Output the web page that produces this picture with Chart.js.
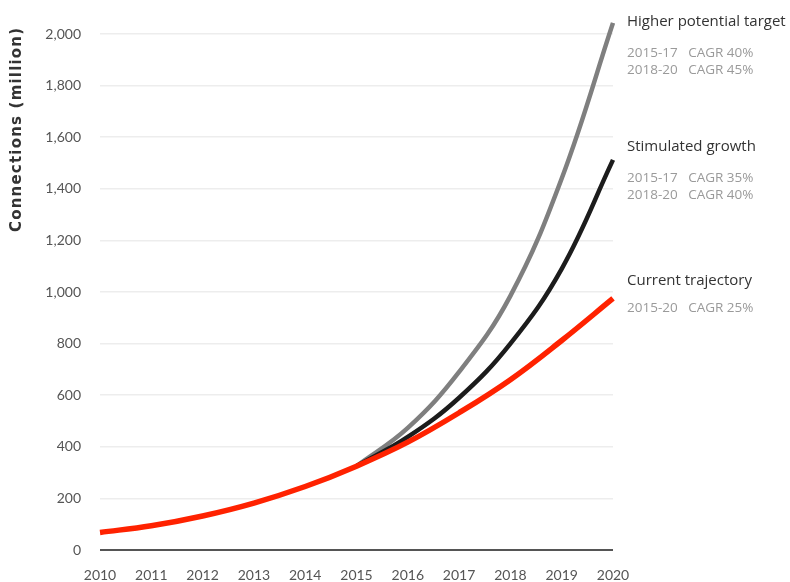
<!DOCTYPE html>
<html>
<head>
<meta charset="utf-8">
<script src="https://cdn.jsdelivr.net/npm/chart.js@4.4.1/dist/chart.umd.min.js"></script>
<style>
  html, body { margin: 0; padding: 0; background: #ffffff; }
  #wrap { width: 790px; height: 582px; }
</style>
</head>
<body>
<div id="wrap"><canvas id="c" width="790" height="582"></canvas></div>
<script>
// Years on the horizontal axis
const years = ['2010','2011','2012','2013','2014','2015','2016','2017','2018','2019','2020'];

// Connections (million) per scenario
const currentTrajectory = [68, 94, 132, 182, 246, 325, 418, 532, 660, 812, 975];
const stimulatedGrowth  = [null, null, null, null, null, 325, 438, 590, 800, 1090, 1512];
const higherPotential   = [null, null, null, null, null, 325, 473, 690, 985, 1440, 2043];

// Y tick values
const yTicks = [0, 200, 400, 600, 800, 1000, 1200, 1400, 1600, 1800, 2000];

// Scenario notes shown at the right
const scenarioNames = ['Higher potential target', 'Stimulated growth', 'Current trajectory'];
const scenarioNotes = [
  ['2015-17   CAGR 40%', '2018-20   CAGR 45%'],
  ['2015-17   CAGR 35%', '2018-20   CAGR 40%'],
  ['2015-20   CAGR 25%']
];
const notePositions = [22, 147, 281];

const tickFont = { family: 'Lato, "Open Sans", sans-serif', size: 14 };

const sideText = {
  id: 'sideText',
  afterDraw(chart) {
    const ctx = chart.ctx;
    ctx.save();
    // vertical axis title, spread to its column length
    const title = 'Connections (million)';
    ctx.translate(17, 130);
    ctx.rotate(-Math.PI / 2);
    ctx.font = 'bold 15px "DejaVu Sans", sans-serif';
    const w = ctx.measureText(title).width;
    ctx.letterSpacing = Math.max(0, (204 - w) / (title.length - 1)).toFixed(2) + 'px';
    ctx.fillStyle = '#333333';
    ctx.textAlign = 'left';
    ctx.textBaseline = 'middle';
    ctx.fillText(title, -102, 0);
    ctx.restore();

    ctx.save();
    ctx.textAlign = 'left';
    ctx.textBaseline = 'middle';
    scenarioNames.forEach((name, i) => {
      const y0 = notePositions[i];
      ctx.font = '15px "Open Sans", sans-serif';
      ctx.fillStyle = '#333333';
      ctx.fillText(name, 627, y0);
      ctx.font = '13.5px "Open Sans", sans-serif';
      ctx.fillStyle = '#9a9a9a';
      scenarioNotes[i].forEach((line, j) => {
        ctx.fillText(line, 627, y0 + (i === 2 ? 27 : 31) + j * 17);
      });
    });
    ctx.restore();
  }
};

new Chart(document.getElementById('c'), {
  type: 'line',
  data: {
    labels: years,
    datasets: [
      {
        label: scenarioNames[0],
        data: higherPotential,
        borderColor: '#7f7f7f',
        borderWidth: 4.5,
        pointRadius: 0,
        tension: 0.4,
        clip: false,
        order: 3
      },
      {
        label: scenarioNames[1],
        data: stimulatedGrowth,
        borderColor: '#1c1c1c',
        borderWidth: 4.5,
        pointRadius: 0,
        tension: 0.4,
        clip: false,
        order: 2
      },
      {
        label: scenarioNames[2],
        data: currentTrajectory,
        borderColor: '#ff2200',
        borderWidth: 5.5,
        pointRadius: 0,
        tension: 0.4,
        clip: false,
        order: 1
      }
    ]
  },
  options: {
    responsive: false,
    animation: false,
    events: [],
    layout: { padding: { top: 34, right: 177, bottom: 0, left: 0 } },
    plugins: { legend: { display: false }, tooltip: { enabled: false } },
    scales: {
      x: {
        offset: false,
        grid: { display: false, drawTicks: false },
        border: { display: false },
        ticks: { font: tickFont, color: '#555555', padding: 17, maxRotation: 0, autoSkip: false },
        afterFit(scale) { scale.height = 32; }
      },
      y: {
        min: 0,
        max: 2000,
        afterBuildTicks(scale) { scale.ticks = yTicks.map(v => ({ value: v })); },
        grid: {
          drawTicks: false,
          color: ctx => (ctx.tick && ctx.tick.value === 0 ? '#555555' : '#ededed'),
          lineWidth: ctx => (ctx.tick && ctx.tick.value === 0 ? 2 : 1.5)
        },
        border: { display: false },
        ticks: {
          font: tickFont,
          color: '#555555',
          padding: 19,
          callback: v => v.toLocaleString('en-US')
        },
        afterFit(scale) { scale.width = 100; }
      }
    }
  },
  plugins: [sideText]
});
</script>
</body>
</html>
